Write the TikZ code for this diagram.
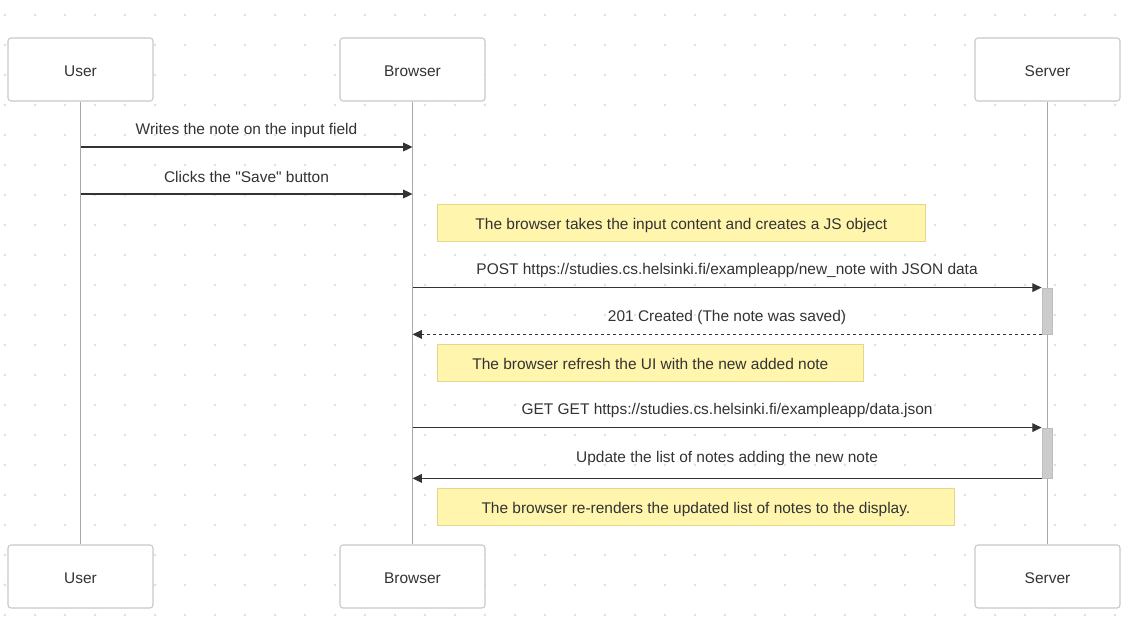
\documentclass[tikz,border=0pt]{standalone}
\usepackage{fontspec}
\setmainfont{Liberation Sans}[Ligatures=TeXOff]
\usetikzlibrary{arrows.meta,positioning}
\definecolor{txtc}{HTML}{333333}
\definecolor{boxc}{HTML}{C8C8C8}
\definecolor{lifec}{HTML}{A8A8A8}
\definecolor{dotc}{HTML}{DEDEDE}
\definecolor{notefill}{HTML}{FFF5AD}
\definecolor{noteline}{HTML}{E3D78A}
\definecolor{actfill}{HTML}{CCCCCC}
\definecolor{actline}{HTML}{BDBDBD}
\tikzset{
  actor/.style={draw=boxc, fill=white, line width=0.8pt, rounded corners=2.25pt,
    minimum width=108.75pt, minimum height=47.25pt, inner sep=0pt, text=txtc,
    text height=10.5pt, text depth=0pt},
  lifeline/.style={draw=lifec, line width=1.4pt},
  msg/.style={draw=txtc, line width=0.9pt, -{Triangle[length=7pt,width=6.5pt]}},
  reply/.style={msg, dash pattern=on 2.25pt off 2.25pt},
  msgtext/.style={text=txtc, inner sep=0pt},
  note/.style={draw=noteline, fill=notefill, line width=0.6pt, minimum height=27.75pt,
    inner sep=0pt, anchor=west, text=txtc, text height=10pt, text depth=0pt},
  active/.style={draw=actline, fill=actfill, line width=0.6pt, minimum width=7.5pt,
    inner sep=0pt},
}
\begin{document}
\begin{tikzpicture}[x=0.75pt, y=-0.75pt, font=\fontsize{11.6}{14}\selectfont]
  \useasboundingbox[fill=white] (0,0) rectangle (1138,631);
  % dotted background
  \foreach \x in {5,35,...,1115}
    \foreach \y in {15,45,...,615}
      \fill[dotc] (\x,\y) circle (1.1pt);

  % participants
  \node[actor] (user)     at (80.5,69.5)   {User};
  \node[actor] (browser)  at (412.5,69.5)  {Browser};
  \node[actor] (server)   at (1047.5,69.5) {Server};
  \node[actor] (userB)    at (80.5,576.5)  {User};
  \node[actor] (browserB) at (412.5,576.5) {Browser};
  \node[actor] (serverB)  at (1047.5,576.5) {Server};

  \draw[lifeline] (user) -- (userB);
  \draw[lifeline] (browser) -- (browserB);
  \draw[lifeline] (server) -- (serverB);

  % activations
  \node[active, minimum height=34.5pt] (act1) at (1047,311) {};
  \node[active, minimum height=37.5pt] (act2) at (1047,453) {};

  % message rows
  \coordinate (r1) at (0,147);
  \coordinate (r2) at (0,194);

  \draw[msg] (user |- r1) -- (browser |- r1)
    node[msgtext, midway, yshift=12.5pt] {Writes the note on the input field};
  \draw[msg] (user |- r2) -- (browser |- r2)
    node[msgtext, midway, yshift=13pt] {Clicks the "Save" button};

  \node[note, minimum width=366pt] (note1) at (437,222.5)
    {The browser takes the input content and creates a JS object};

  \draw[msg] (browser |- act1.north) -- (act1.north west)
    node[msgtext, midway, yshift=13pt] {POST https://studies.cs.helsinki.fi/exampleapp/new\_note with JSON data};
  \draw[reply] (act1.south west) -- (browser |- act1.south)
    node[msgtext, midway, yshift=12.5pt] {201 Created (The note was saved)};

  \node[note, minimum width=319.5pt] (note2) at (437,362.5)
    {The browser refresh the UI with the new added note};

  \draw[msg] (browser |- act2.north) -- (act2.north west)
    node[msgtext, midway, yshift=12.5pt] {GET GET https://studies.cs.helsinki.fi/exampleapp/data.json};
  \draw[msg] (act2.south west) -- (browser |- act2.south)
    node[msgtext, midway, yshift=15pt] {Update the list of notes adding the new note};

  \node[note, minimum width=387.75pt] (note3) at (437,507)
    {The browser re-renders the updated list of notes to the display.};
\end{tikzpicture}
\end{document}
